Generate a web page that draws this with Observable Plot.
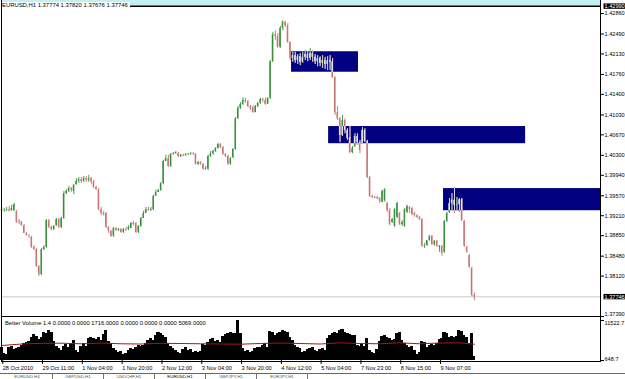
<!DOCTYPE html>
<html>
<head>
<meta charset="utf-8">
<script src="https://cdn.jsdelivr.net/npm/d3@7"></script>
<script src="https://cdn.jsdelivr.net/npm/@observablehq/plot@0.6"></script>
<style>
  html, body { margin: 0; padding: 0; background: #fff; }
  #wrap { position: relative; width: 625px; height: 379px; overflow: hidden; background: #fff;
          font-family: "Liberation Sans", Arial, sans-serif; color: #000; }
  .ln { position: absolute; background: #000; }
  .txt { position: absolute; white-space: nowrap; font-size: 5.8px; line-height: 7px; }
  .tab { position: absolute; top: 374px; height: 5px; border-right: 1px solid #777; font-size: 4.4px;
         line-height: 5px; color: #555; text-align: center; overflow: hidden; white-space: nowrap; }
</style>
</head>
<body>
<div id="wrap"></div>
<script>
// ---------------- data ----------------
const symbol = "EURUSD,H1";

// one H1 bar per index, 0 = 28 Oct 2010 19:00 ... 190 = 9 Nov 2010 21:00
const open = [
1.3932,1.3930,1.3930,1.3932,1.3930,1.3930,1.3929,1.3911,1.3909,1.3903,
1.3889,1.3885,1.3882,1.3864,1.3860,1.3829,1.3815,1.3860,1.3864,1.3912,
1.3900,1.3896,1.3903,1.3914,1.3900,1.3916,1.3961,1.3965,1.3970,1.3965,
1.3977,1.3983,1.3986,1.3983,1.3988,1.3985,1.3988,1.3983,1.3972,1.3968,
1.3932,1.3925,1.3925,1.3900,1.3893,1.3884,1.3898,1.3894,1.3896,1.3891,
1.3896,1.3896,1.3898,1.3907,1.3907,1.3891,1.3902,1.3916,1.3925,1.3932,
1.3930,1.3932,1.3956,1.3963,1.3967,1.3979,1.4019,1.4024,1.4010,1.4032,
1.4033,1.4033,1.4028,1.4030,1.4030,1.4032,1.4032,1.4033,1.4032,1.4014,
1.4017,1.4014,1.4005,1.4005,1.4028,1.4033,1.4037,1.4042,1.4050,1.4044,
1.4032,1.4028,1.4014,1.4026,1.4041,1.4096,1.4115,1.4122,1.4129,1.4127,
1.4118,1.4116,1.4107,1.4118,1.4124,1.4131,1.4129,1.4122,1.4133,1.4199,
1.4248,1.4245,1.4225,1.4259,1.4270,1.4264,1.4234,1.4205,1.4210,1.4201,
1.4208,1.4198,1.4207,1.4212,1.4205,1.4214,1.4207,1.4199,1.4205,1.4196,
1.4201,1.4194,1.4201,1.4199,1.4170,1.4107,1.4096,1.4066,1.4093,1.4075,
1.4062,1.4035,1.4046,1.4064,1.4053,1.4051,1.4075,1.4055,1.3990,1.3956,
1.3954,1.3954,1.3952,1.3945,1.3949,1.3943,1.3930,1.3909,1.3902,1.3918,
1.3925,1.3905,1.3902,1.3927,1.3936,1.3934,1.3925,1.3921,1.3918,1.3914,
1.3866,1.3867,1.3876,1.3884,1.3869,1.3875,1.3864,1.3866,1.3855,1.3911,
1.3927,1.3943,1.3949,1.3940,1.3941,1.3950,1.3911,1.3864,1.3849,1.3826,
1.37774];
const high = [
1.3936,1.3934,1.3936,1.3938,1.3940,1.3943,1.3930,1.3914,1.3911,1.3905,
1.3891,1.3887,1.3884,1.3867,1.3862,1.3831,1.3862,1.3867,1.3914,1.3914,
1.3902,1.3903,1.3916,1.3916,1.3918,1.3965,1.3968,1.3974,1.3972,1.3977,
1.3988,1.3990,1.3990,1.3992,1.3992,1.3994,1.3990,1.3985,1.3974,1.3970,
1.3936,1.3929,1.3927,1.3902,1.3894,1.3900,1.3900,1.3898,1.3898,1.3898,
1.3900,1.3903,1.3909,1.3911,1.3909,1.3903,1.3918,1.3929,1.3936,1.3936,
1.3936,1.3958,1.3967,1.3968,1.3981,1.4021,1.4030,1.4030,1.4033,1.4035,
1.4037,1.4035,1.4032,1.4032,1.4033,1.4033,1.4035,1.4035,1.4033,1.4019,
1.4019,1.4015,1.4010,1.4030,1.4037,1.4039,1.4044,1.4051,1.4051,1.4046,
1.4033,1.4030,1.4026,1.4042,1.4098,1.4118,1.4125,1.4134,1.4133,1.4129,
1.4120,1.4120,1.4120,1.4125,1.4133,1.4133,1.4133,1.4134,1.4201,1.4252,
1.4254,1.4250,1.4263,1.4273,1.4272,1.4268,1.4234,1.4219,1.4216,1.4212,
1.4214,1.4216,1.4219,1.4217,1.4223,1.4219,1.4212,1.4210,1.4208,1.4210,
1.4207,1.4208,1.4210,1.4205,1.4172,1.4118,1.4098,1.4102,1.4096,1.4078,
1.4082,1.4046,1.4069,1.4069,1.4057,1.4080,1.4078,1.4057,1.3992,1.3958,
1.3956,1.3956,1.3954,1.3967,1.3970,1.3945,1.3934,1.3916,1.3934,1.3945,
1.3927,1.3912,1.3934,1.3940,1.3938,1.3936,1.3927,1.3923,1.3920,1.3916,
1.3871,1.3876,1.3885,1.3885,1.3876,1.3876,1.3867,1.3867,1.3912,1.3927,
1.3952,1.3961,1.3972,1.3954,1.3952,1.3952,1.3912,1.3866,1.3851,1.3828,
1.37820];
const low = [
1.3927,1.3927,1.3929,1.3927,1.3929,1.3929,1.3907,1.3905,1.3902,1.3889,
1.3884,1.3880,1.3862,1.3858,1.3828,1.3811,1.3813,1.3858,1.3862,1.3898,
1.3894,1.3894,1.3902,1.3898,1.3898,1.3914,1.3959,1.3963,1.3963,1.3959,
1.3976,1.3979,1.3979,1.3981,1.3981,1.3981,1.3977,1.3970,1.3967,1.3930,
1.3921,1.3920,1.3898,1.3889,1.3882,1.3882,1.3893,1.3893,1.3889,1.3889,
1.3893,1.3894,1.3898,1.3903,1.3889,1.3889,1.3900,1.3916,1.3925,1.3929,
1.3929,1.3930,1.3956,1.3963,1.3965,1.3977,1.4019,1.4008,1.4008,1.4030,
1.4032,1.4026,1.4026,1.4028,1.4028,1.4030,1.4030,1.4030,1.4012,1.4012,
1.4012,1.4003,1.4003,1.4003,1.4026,1.4030,1.4035,1.4042,1.4042,1.4030,
1.4026,1.4012,1.4012,1.4024,1.4039,1.4095,1.4113,1.4120,1.4124,1.4116,
1.4111,1.4106,1.4107,1.4116,1.4122,1.4125,1.4120,1.4122,1.4131,1.4198,
1.4237,1.4223,1.4223,1.4255,1.4261,1.4232,1.4201,1.4198,1.4196,1.4194,
1.4192,1.4196,1.4201,1.4199,1.4201,1.4198,1.4194,1.4190,1.4190,1.4187,
1.4185,1.4183,1.4183,1.4169,1.4102,1.4093,1.4053,1.4064,1.4069,1.4057,
1.4033,1.4033,1.4044,1.4048,1.4033,1.4050,1.4053,1.3988,1.3954,1.3952,
1.3952,1.3950,1.3943,1.3945,1.3945,1.3927,1.3903,1.3907,1.3900,1.3916,
1.3903,1.3902,1.3900,1.3925,1.3925,1.3921,1.3918,1.3916,1.3912,1.3864,
1.3862,1.3866,1.3875,1.3867,1.3866,1.3864,1.3855,1.3848,1.3853,1.3909,
1.3925,1.3930,1.3925,1.3930,1.3927,1.3911,1.3864,1.3853,1.3826,1.3775,
1.37676];
const close = [
1.3930,1.3930,1.3932,1.3930,1.3934,1.3941,1.3909,1.3909,1.3903,1.3889,
1.3885,1.3884,1.3864,1.3860,1.3829,1.3815,1.3860,1.3864,1.3912,1.3900,
1.3896,1.3902,1.3914,1.3900,1.3916,1.3961,1.3965,1.3970,1.3967,1.3976,
1.3983,1.3986,1.3983,1.3988,1.3985,1.3988,1.3983,1.3972,1.3968,1.3932,
1.3925,1.3923,1.3900,1.3893,1.3884,1.3898,1.3894,1.3896,1.3891,1.3896,
1.3894,1.3900,1.3907,1.3905,1.3891,1.3902,1.3916,1.3925,1.3932,1.3930,
1.3932,1.3956,1.3963,1.3967,1.3979,1.4019,1.4024,1.4010,1.4032,1.4033,
1.4035,1.4028,1.4030,1.4028,1.4032,1.4033,1.4033,1.4032,1.4014,1.4017,
1.4014,1.4005,1.4006,1.4028,1.4033,1.4037,1.4042,1.4050,1.4044,1.4032,
1.4028,1.4014,1.4024,1.4041,1.4096,1.4115,1.4122,1.4129,1.4127,1.4118,
1.4115,1.4107,1.4118,1.4124,1.4131,1.4129,1.4122,1.4133,1.4199,1.4248,
1.4245,1.4225,1.4259,1.4270,1.4264,1.4234,1.4205,1.4210,1.4201,1.4208,
1.4198,1.4207,1.4212,1.4205,1.4214,1.4207,1.4199,1.4205,1.4196,1.4201,
1.4194,1.4201,1.4198,1.4170,1.4107,1.4096,1.4066,1.4093,1.4075,1.4060,
1.4035,1.4042,1.4064,1.4053,1.4039,1.4075,1.4055,1.3990,1.3956,1.3954,
1.3952,1.3952,1.3947,1.3965,1.3968,1.3930,1.3905,1.3914,1.3932,1.3943,
1.3905,1.3909,1.3932,1.3938,1.3932,1.3923,1.3921,1.3918,1.3914,1.3866,
1.3867,1.3876,1.3884,1.3869,1.3875,1.3866,1.3866,1.3853,1.3911,1.3925,
1.3943,1.3949,1.3940,1.3941,1.3950,1.3912,1.3866,1.3856,1.3828,1.3777,
1.37746];

// Better Volume histogram, one value per bar
const volume = [
4180,2550,2280,4180,4460,3640,3910,4180,4730,5270,
5540,5810,6900,7720,7170,6360,6900,8260,7990,8800,
8260,5810,4460,3910,3370,4460,5000,4180,5270,6090,
3370,2820,4460,5270,4460,6630,6900,6630,6360,6900,
6090,7720,8800,5810,5270,3910,3370,2820,3100,2280,
2550,3370,3910,3640,4180,4730,4460,4730,5270,6090,
6630,6090,7450,8260,7990,7450,6900,5270,4460,3910,
3370,2820,2550,3640,4180,3370,3640,2820,3100,2820,
3100,5000,4730,5540,6360,6630,5810,6090,5540,7170,
7720,7990,8260,7990,7990,11520,7990,3910,3100,3370,
2820,3100,3910,4180,4180,4730,5270,4180,8530,8260,
7450,7990,8260,8800,8530,8260,6900,6090,4730,4180,
3910,2820,3100,3640,3910,4180,3370,3100,3640,3910,
3370,6630,7450,7990,8260,7990,8800,9080,8260,7990,
7720,7450,7450,4730,4460,5000,4460,6630,3370,2820,
2550,3640,5810,7170,7450,6900,6630,6090,6360,7990,
8260,6090,5270,4730,4180,4460,3370,2280,2820,5810,
5540,4180,4730,5000,4730,5270,6360,6630,8260,7990,
6900,7170,6900,7170,8800,8530,7450,6900,5270,7990,
1716];
// volume average line, read at these bars
const maBars   = [0,8,16,24,32,40,48,56,64,72,80,88,96,104,112,120,128,136,144,152,160,168,176,184,190];
const maValues = [4730,5130,5320,5350,5190,5400,5190,5130,5320,5270,5190,5130,5080,5270,5400,5270,5130,5460,5270,5190,5460,5190,5400,5460,5069];
const volumeRange = [648.7, 11522.7];

// navy rectangle objects (bar index span, price span)
const boxStart  = [116.5, 131.4, 177.6];
const boxEnd    = [143.4, 210.6, 260];
const boxTop    = [1.4217, 1.4082, 1.3970];
const boxBottom = [1.4180, 1.4051, 1.3930];

// horizontal line object and visible price range
const upperLine = 1.42990;
const priceTop = 1.43095, priceBottom = 1.37391;

const priceTicks = [1.42860,1.42490,1.42130,1.41760,1.41400,1.41030,1.40670,1.40300,1.39940,1.39570,1.39210,1.38850,1.38480,1.38120,1.37390];
const xTickBars   = [0,16,32,48,64,80,96,112,128,144,160,176];
const xTickLabels = ["28 Oct 2010","29 Oct 11:00","1 Nov 04:00","1 Nov 20:00","2 Nov 12:00","3 Nov 04:00","3 Nov 20:00","4 Nov 12:00","5 Nov 04:00","7 Nov 23:00","8 Nov 15:00","9 Nov 07:00"];
const indicatorBuffers = ["0.0000","0.0000","1716.0000","0.0000","0.0000","0.0000","5069.0000"];
const tabLabels = ["EURUSD,H4","GBPUSD,H1","USDCHF,H1","EURUSD,H1","GBPJPY,H1","EURJPY,H1"];

// ---------------- drawing ----------------
const X_DOMAIN = [-0.1, 240.7];
const FONT = '"Liberation Sans", Arial, sans-serif';
const BULL = "#358d35", BEAR = "#c77272", BOX = "#000080";
const bars = open.map((o, i) => ({i, o, h: high[i], l: low[i], c: close[i]}));
const dirColor = d => (d.c >= d.o ? BULL : BEAR);
const boxes = boxStart.map((s, k) => ({s, e: boxEnd[k], t: boxTop[k], b: boxBottom[k]}));
const last = bars[bars.length - 1];
const wrap = document.getElementById("wrap");
const fmt5 = d => d.toFixed(5), fmt1 = d => d.toFixed(1);
const tickOpts = {anchor: "right", tickSize: 3, tickPadding: 1, label: null};
const labelOpts = {y: d => d, frameAnchor: "right", dx: 4, textAnchor: "start"};

const main = Plot.plot({
  width: 625, height: 316,
  marginLeft: 1, marginRight: 25, marginTop: 0, marginBottom: 0,
  x: {domain: X_DOMAIN, axis: null, label: null},
  y: {domain: [priceBottom, priceTop], axis: null, label: null},
  style: {fontFamily: FONT, fontSize: "5.6px", background: "transparent", overflow: "visible", color: "#000"},
  marks: [
    Plot.rect([upperLine], {y1: d => d, y2: () => priceTop, fill: "#c4eff2"}),
    Plot.ruleY([upperLine], {stroke: "#000", strokeWidth: 1.6}),
    Plot.ruleY([last.c], {stroke: "#c8c8c8", strokeWidth: 1}),
    Plot.rect(boxes, {x1: "s", x2: "e", y1: "b", y2: "t", fill: BOX, clip: true}),
    Plot.ruleX(bars, {x: "i", y1: "l", y2: "h", stroke: dirColor, strokeWidth: 0.9}),
    Plot.rect(bars, {x1: d => d.i - 0.25, x2: d => d.i + 0.25, y1: "o", y2: "c", fill: dirColor}),
    Plot.axisY(priceTicks, {...tickOpts, tickFormat: d => (d === priceTicks[priceTicks.length - 1] ? "" : fmt5(d))}),
    Plot.text(priceTicks.slice(-1), {...labelOpts, text: fmt5, dy: -2}),
    Plot.text([upperLine, last.c], {...labelOpts, text: fmt5, fill: "#fff"})
  ]
});
main.style.position = "absolute"; main.style.left = "0px"; main.style.top = "0px";
wrap.appendChild(main);

const vbars = volume.map((v, i) => ({i, v}));
const ma = maBars.map((b, k) => ({i: b, v: maValues[k]}));
const vol = Plot.plot({
  width: 625, height: 57,
  marginLeft: 1, marginRight: 25, marginTop: 4, marginBottom: 13,
  x: {domain: X_DOMAIN, axis: null, label: null},
  y: {domain: volumeRange, axis: null, label: null},
  style: {fontFamily: FONT, fontSize: "5.6px", background: "transparent", overflow: "visible", color: "#000"},
  marks: [
    Plot.rect(vbars, {x1: d => d.i - 0.62, x2: d => d.i + 0.62, y1: () => volumeRange[0], y2: "v", fill: "#000",
      shapeRendering: "crispEdges"}),
    Plot.line(ma, {x: "i", y: "v", stroke: "#a31818", strokeWidth: 1}),
    Plot.axisY(volumeRange, {...tickOpts, tickFormat: () => ""}),
    Plot.text(volumeRange.slice(1), {...labelOpts, text: fmt1, dy: 2.5}),
    Plot.text(volumeRange.slice(0, 1), {...labelOpts, text: fmt1, dy: -1.5}),
    Plot.axisX(xTickBars, {anchor: "bottom", tickSize: 4, tickPadding: 2, textAnchor: "start", dx: 1, label: null,
      tickFormat: d => xTickLabels[xTickBars.indexOf(d)]})
  ]
});
vol.style.position = "absolute"; vol.style.left = "0px"; vol.style.top = "316px";
wrap.appendChild(vol);

const NS = "http://www.w3.org/2000/svg";

// black label backgrounds for the highlighted prices
const hlStrings = [fmt5(upperLine), fmt5(last.c)];
[...main.querySelectorAll("text")].filter(t => hlStrings.includes(t.textContent)).forEach(t => {
  const b = t.getBBox();
  const r = document.createElementNS(NS, "rect");
  r.setAttribute("x", b.x - 1); r.setAttribute("y", b.y + 0.3);
  r.setAttribute("width", b.width + 2); r.setAttribute("height", Math.max(0, b.height - 0.6));
  r.setAttribute("fill", "#000");
  if (t.getAttribute("transform")) r.setAttribute("transform", t.getAttribute("transform"));
  t.parentNode.insertBefore(r, t);
});

// candles over the navy rectangles show their light body colour
(function () {
  const isBox = el => el.getAttribute("fill") === BOX;
  const boxRects = [...main.querySelectorAll("rect")].filter(r => isBox(r) || isBox(r.parentNode));
  const colored = el => [BULL, BEAR].includes(el.getAttribute("stroke")) || [BULL, BEAR].includes(el.getAttribute("fill"));
  const wickLine = [...main.querySelectorAll("line")].find(colored);
  const bodyRect = [...main.querySelectorAll("rect")].find(colored);
  if (!boxRects.length || !wickLine || !bodyRect) return;
  const defs = document.createElementNS(NS, "defs");
  const cp = document.createElementNS(NS, "clipPath");
  cp.setAttribute("id", "boxclip");
  boxRects.forEach(r => {
    const c = r.cloneNode();
    const tr = [r.parentNode.getAttribute("transform"), r.getAttribute("transform")].filter(Boolean).join(" ");
    if (tr) c.setAttribute("transform", tr);
    cp.appendChild(c);
  });
  defs.appendChild(cp);
  main.insertBefore(defs, main.firstChild);
  const overlay = document.createElementNS(NS, "g");
  overlay.setAttribute("clip-path", "url(#boxclip)");
  [wickLine.parentNode, bodyRect.parentNode].forEach(src => {
    const g = src.cloneNode(true);
    [g, ...g.querySelectorAll("*")].forEach(e => {
      if (e.getAttribute("stroke")) e.setAttribute("stroke", "#e4e4ee");
      if (e.getAttribute("fill") && e.getAttribute("fill") !== "none") e.setAttribute("fill", "#e4e4ee");
    });
    overlay.appendChild(g);
  });
  const anchor = bodyRect.parentNode;
  anchor.parentNode.insertBefore(overlay, anchor.nextSibling);
})();

// window frame lines
function line(l, t, w, h, c) {
  const d = document.createElement("div");
  d.className = "ln";
  Object.assign(d.style, {left: l + "px", top: t + "px", width: w + "px", height: h + "px", background: c || "#000"});
  wrap.appendChild(d);
}
line(1, 0, 1, 362);
line(600, 0, 1, 362);
line(1, 316, 600, 1);
line(1, 361, 600, 1);
line(0, 373, 625, 1, "#666");

// texts
const title = document.createElement("div");
title.className = "txt";
Object.assign(title.style, {left: "2px", top: "2px", background: "#fff", paddingRight: "2px", fontSize: "5.9px"});
title.textContent = `${symbol} ${fmt5(last.o)} ${fmt5(last.h)} ${fmt5(last.l)} ${fmt5(last.c)}`;
wrap.appendChild(title);

const ind = document.createElement("div");
ind.className = "txt";
Object.assign(ind.style, {left: "5px", top: "319.5px"});
ind.textContent = "Better Volume 1.4 " + indicatorBuffers.join(" ");
wrap.appendChild(ind);

tabLabels.forEach((t, k) => {
  const d = document.createElement("div");
  d.className = "tab";
  Object.assign(d.style, {left: (2 + k * 51) + "px", width: "50px"});
  if (t === symbol) { d.style.color = "#000"; d.style.background = "#fff"; }
  d.textContent = t;
  wrap.appendChild(d);
});
</script>
</body>
</html>
